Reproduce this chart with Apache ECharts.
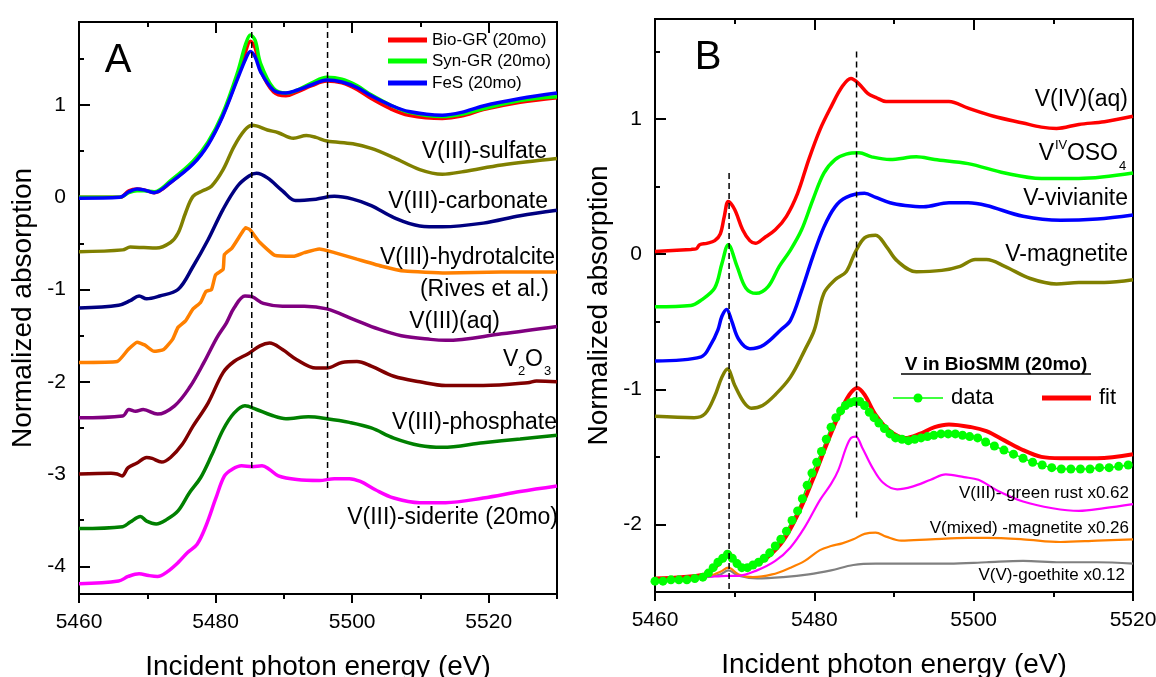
<!DOCTYPE html>
<html>
<head>
<meta charset="utf-8">
<script src="https://cdn.jsdelivr.net/npm/echarts@6/dist/echarts.min.js"></script>
<style>
  html, body { margin: 0; background: #fff; }
  #chart { width: 1156px; height: 677px; }
</style>
</head>
<body>
<div id="chart"></div>
<script>
const FONT = 'Liberation Sans, Arial, sans-serif';

// ---- panel A : reference spectra (eV, normalized absorption, stacked) ----
const bioGR = [[5460,0.0],[5466,0.0],[5467.3,0.07],[5468.5,0.09],[5469.5,0.08],[5471,0.05],[5473.4,0.16],[5476.7,0.37],[5478.9,0.58],[5481,0.88],[5483.2,1.30],[5484.4,1.58],[5485.1,1.69],[5485.8,1.62],[5486.6,1.38],[5488.5,1.14],[5490.3,1.10],[5491.9,1.14],[5494.1,1.21],[5496.3,1.26],[5498.5,1.24],[5500.7,1.17],[5502.8,1.07],[5505.6,0.96],[5508.3,0.89],[5513.2,0.855],[5516,0.88],[5519.2,0.95],[5524.6,1.03],[5530,1.08]];
const synGR = [[5460,0.0],[5466,0.0],[5467.3,0.05],[5468.5,0.07],[5469.5,0.07],[5471,0.06],[5473.4,0.18],[5476.7,0.39],[5478.9,0.60],[5481,0.90],[5483.2,1.35],[5484.4,1.66],[5485.1,1.76],[5485.8,1.70],[5486.6,1.45],[5488.5,1.18],[5490.3,1.13],[5491.9,1.16],[5494.1,1.24],[5496.3,1.30],[5498.5,1.28],[5500.7,1.21],[5502.8,1.11],[5505.6,1.0],[5508.3,0.92],[5513.2,0.875],[5516,0.90],[5519.2,0.96],[5524.6,1.05],[5530,1.09]];
const feS = [[5460,-0.01],[5466,0.0],[5467.3,0.06],[5468.5,0.09],[5469.5,0.08],[5471,0.05],[5473.4,0.16],[5476.7,0.36],[5478.9,0.57],[5481,0.87],[5483.2,1.28],[5484.4,1.50],[5485.1,1.58],[5485.8,1.52],[5486.6,1.36],[5488.5,1.16],[5490.3,1.13],[5491.9,1.16],[5494.1,1.22],[5496.3,1.27],[5498.5,1.25],[5500.7,1.19],[5502.8,1.10],[5505.6,1.00],[5508.3,0.93],[5513.2,0.89],[5516,0.92],[5519.2,0.99],[5524.6,1.07],[5530,1.13]];
const sulfate = [[5460,-0.59],[5466.4,-0.57],[5467.5,-0.54],[5469.5,-0.545],[5471.3,-0.55],[5473.4,-0.49],[5474.5,-0.39],[5475.6,-0.17],[5476.7,0.01],[5478.1,0.07],[5479.4,0.12],[5481.1,0.30],[5482.7,0.55],[5484.3,0.73],[5485.4,0.78],[5487.6,0.73],[5489.2,0.70],[5491.4,0.64],[5493.3,0.67],[5494.7,0.65],[5496.3,0.61],[5500.1,0.58],[5502.8,0.53],[5506.1,0.43],[5509.9,0.30],[5513.2,0.25],[5516.4,0.28],[5521.9,0.35],[5530,0.42]];
const carbonate = [[5460,-1.20],[5465.8,-1.17],[5467.5,-1.12],[5468.8,-1.07],[5469.9,-1.10],[5471.8,-1.07],[5474.5,-1.0],[5476.7,-0.75],[5478.9,-0.46],[5481.1,-0.13],[5483.2,0.12],[5484.9,0.23],[5486,0.26],[5487.6,0.21],[5489.8,0.07],[5491.7,-0.035],[5494.7,-0.02],[5497.4,0.01],[5500.1,-0.02],[5502.8,-0.09],[5506.1,-0.22],[5509.9,-0.31],[5513.2,-0.32],[5519.2,-0.28],[5524.6,-0.20],[5530,-0.14]];
const hydrotalcite = [[5460,-1.79],[5465.6,-1.78],[5467.2,-1.65],[5468.5,-1.57],[5469.6,-1.60],[5471,-1.67],[5472.4,-1.65],[5473.7,-1.54],[5474.5,-1.41],[5475.6,-1.34],[5476.7,-1.21],[5477.8,-1.14],[5478.6,-1.02],[5479.4,-1.0],[5480,-0.84],[5481.1,-0.78],[5481.3,-0.62],[5482.4,-0.55],[5483.8,-0.39],[5484.4,-0.33],[5485,-0.35],[5486.5,-0.49],[5488.7,-0.63],[5491.4,-0.64],[5493,-0.60],[5495.2,-0.56],[5497.4,-0.60],[5500.7,-0.67],[5504.5,-0.75],[5507.7,-0.80],[5513.7,-0.82],[5521.9,-0.81],[5530,-0.81]];
const aqueous = [[5460,-2.39],[5466.4,-2.37],[5467.3,-2.30],[5468.3,-2.32],[5469.4,-2.30],[5471.5,-2.35],[5474,-2.26],[5476.2,-2.06],[5478.3,-1.79],[5480.2,-1.52],[5481.6,-1.36],[5482.7,-1.20],[5484.3,-1.07],[5485.4,-1.08],[5487,-1.15],[5489.8,-1.18],[5493,-1.18],[5496.3,-1.21],[5500.1,-1.32],[5503.9,-1.43],[5507.2,-1.50],[5511.5,-1.54],[5513.7,-1.55],[5521.9,-1.48],[5530,-1.40]];
const v2o3 = [[5460,-3.0],[5464.7,-2.99],[5465.6,-3.0],[5466.3,-3.02],[5467.2,-2.93],[5468.5,-2.88],[5469.9,-2.82],[5470.7,-2.83],[5472.1,-2.87],[5473.4,-2.82],[5475.1,-2.68],[5476.7,-2.48],[5478.9,-2.23],[5481.1,-1.90],[5482.7,-1.78],[5484.9,-1.69],[5486.5,-1.61],[5487.9,-1.58],[5489.8,-1.65],[5491.9,-1.76],[5494.7,-1.85],[5496.3,-1.85],[5498.5,-1.79],[5500.7,-1.78],[5502.8,-1.83],[5506.1,-1.94],[5509.9,-2.00],[5513.7,-2.04],[5519.2,-2.04],[5525.7,-2.01],[5527,-1.99],[5530,-2.0]];
const phosphate = [[5460,-3.59],[5466.4,-3.57],[5467.5,-3.52],[5469,-3.46],[5469.9,-3.51],[5471.3,-3.54],[5472.9,-3.49],[5474.5,-3.40],[5476.2,-3.20],[5477.8,-3.04],[5479.4,-2.80],[5481.1,-2.52],[5482.7,-2.34],[5484.3,-2.26],[5486,-2.30],[5488.1,-2.36],[5490.3,-2.40],[5493.6,-2.38],[5496.3,-2.40],[5499.6,-2.44],[5502.8,-2.50],[5506.1,-2.61],[5509.9,-2.69],[5513.2,-2.71],[5519.2,-2.66],[5524.6,-2.62],[5530,-2.58]];
const siderite = [[5460,-4.19],[5465.8,-4.16],[5467.2,-4.11],[5468.8,-4.08],[5470.2,-4.10],[5471.5,-4.11],[5472.9,-4.06],[5474.5,-3.96],[5475.9,-3.85],[5477.3,-3.76],[5478.6,-3.56],[5480,-3.27],[5481.3,-3.02],[5482.4,-2.95],[5483.8,-2.91],[5485.4,-2.92],[5486.8,-2.91],[5487.9,-2.95],[5489.2,-3.02],[5491.9,-3.06],[5495.2,-3.07],[5497.4,-3.05],[5499.6,-3.05],[5501.2,-3.08],[5503.4,-3.17],[5506.1,-3.26],[5509.9,-3.31],[5513.7,-3.31],[5519.2,-3.26],[5524.6,-3.19],[5530,-3.13]];

// ---- panel B : standards and LCF of BioSMM ----
const v4aq = [[5460,0.02],[5464.5,0.035],[5465.2,0.04],[5465.6,0.07],[5466.5,0.08],[5467.5,0.10],[5468.2,0.15],[5468.7,0.28],[5469.2,0.39],[5470,0.33],[5471,0.18],[5471.9,0.10],[5472.6,0.08],[5473.7,0.12],[5475.1,0.18],[5476.5,0.28],[5477.9,0.45],[5479.3,0.70],[5480.7,0.92],[5482.1,1.09],[5483.5,1.24],[5484.6,1.30],[5485.6,1.26],[5486.7,1.19],[5487.7,1.16],[5489,1.13],[5491.4,1.13],[5494.6,1.13],[5496.9,1.13],[5499.3,1.08],[5502.5,1.02],[5506.2,0.97],[5508.5,0.94],[5510.4,0.93],[5513.2,0.96],[5516.4,0.98],[5520,1.02]];
const voso4 = [[5460,-0.39],[5464.5,-0.38],[5465.8,-0.34],[5467.5,-0.25],[5468.4,-0.07],[5469.2,0.07],[5470.3,-0.09],[5471.4,-0.25],[5472.7,-0.29],[5474.2,-0.24],[5475.6,-0.09],[5477,0.03],[5478.4,0.18],[5479.8,0.40],[5481.2,0.60],[5482.6,0.70],[5484,0.74],[5485.6,0.75],[5487.2,0.72],[5489.5,0.70],[5492.8,0.72],[5495.1,0.70],[5499.3,0.67],[5503.9,0.60],[5508.5,0.56],[5513.2,0.56],[5520,0.60]];
const vivianite = [[5460,-0.79],[5465.8,-0.76],[5467,-0.67],[5467.9,-0.56],[5468.4,-0.46],[5469,-0.41],[5469.6,-0.49],[5470.5,-0.63],[5471.9,-0.70],[5473.7,-0.67],[5475.8,-0.56],[5477,-0.49],[5478.4,-0.27],[5479.8,-0.02],[5481.2,0.20],[5482.6,0.35],[5484,0.42],[5486.3,0.45],[5487.7,0.42],[5489.5,0.38],[5491.4,0.36],[5493.7,0.35],[5496.9,0.38],[5499.3,0.38],[5501.6,0.36],[5506.2,0.28],[5510.9,0.25],[5515.5,0.26],[5520,0.29]];
const magnetite = [[5460,-1.20],[5464.9,-1.21],[5466.3,-1.18],[5467.5,-1.05],[5468.4,-0.91],[5469.1,-0.85],[5470,-0.97],[5471.2,-1.10],[5472.1,-1.14],[5473.5,-1.12],[5475.1,-1.04],[5477,-0.91],[5478.8,-0.71],[5480,-0.56],[5481.2,-0.29],[5482.6,-0.19],[5484,-0.13],[5485.1,0.01],[5486.3,0.12],[5487.7,0.14],[5489,0.06],[5490.4,-0.05],[5492.8,-0.13],[5496,-0.12],[5498.3,-0.09],[5500.2,-0.04],[5501.6,-0.04],[5503.9,-0.09],[5507.1,-0.18],[5510.4,-0.22],[5513.2,-0.21],[5516.4,-0.21],[5520,-0.19]];
const bioSMM = [[5460,-2.42],[5461,-2.42],[5462,-2.41],[5463,-2.41],[5464,-2.41],[5465,-2.40],[5466,-2.39],[5466.7,-2.36],[5467.3,-2.32],[5467.9,-2.28],[5468.5,-2.25],[5469.1,-2.22],[5469.7,-2.25],[5470.3,-2.29],[5470.9,-2.32],[5471.6,-2.32],[5472.3,-2.30],[5473,-2.28],[5473.7,-2.25],[5474.4,-2.21],[5475.1,-2.16],[5475.8,-2.11],[5476.5,-2.05],[5477.2,-1.97],[5477.9,-1.90],[5478.5,-1.81],[5479.1,-1.71],[5479.7,-1.62],[5480.3,-1.54],[5480.9,-1.46],[5481.5,-1.37],[5482.1,-1.28],[5482.7,-1.21],[5483.3,-1.16],[5483.9,-1.12],[5484.5,-1.10],[5485.1,-1.09],[5485.7,-1.09],[5486.3,-1.12],[5486.9,-1.17],[5487.5,-1.21],[5488.1,-1.25],[5488.8,-1.29],[5489.5,-1.33],[5490.2,-1.36],[5491,-1.37],[5491.8,-1.38],[5492.6,-1.37],[5493.4,-1.36],[5494.2,-1.35],[5495,-1.34],[5495.9,-1.33],[5496.8,-1.33],[5497.7,-1.33],[5498.6,-1.34],[5499.5,-1.35],[5500.5,-1.36],[5501.5,-1.39],[5502.6,-1.42],[5503.8,-1.45],[5505,-1.48],[5506.2,-1.51],[5507.4,-1.54],[5508.6,-1.56],[5509.8,-1.58],[5511,-1.59],[5512.2,-1.59],[5513.4,-1.59],[5514.6,-1.59],[5515.8,-1.58],[5517,-1.58],[5518.2,-1.57],[5519.4,-1.56]];
const fit = [[5460,-2.40],[5466.3,-2.37],[5467.5,-2.32],[5468.2,-2.28],[5469.2,-2.21],[5470,-2.27],[5471.2,-2.32],[5472.6,-2.30],[5474.2,-2.24],[5476.1,-2.12],[5477.9,-1.93],[5479.8,-1.67],[5481.6,-1.40],[5483,-1.20],[5484.4,-1.04],[5485.4,-0.99],[5486.3,-1.04],[5487.7,-1.19],[5489.5,-1.31],[5491.4,-1.36],[5493.2,-1.33],[5495.1,-1.28],[5496.9,-1.26],[5499.7,-1.28],[5501.6,-1.31],[5503.9,-1.38],[5506.2,-1.45],[5508.5,-1.50],[5510.9,-1.51],[5515.5,-1.51],[5520,-1.48]];
const greenRust = [[5460,-2.40],[5466.3,-2.39],[5469,-2.38],[5470.5,-2.38],[5472.8,-2.34],[5475.1,-2.27],[5477,-2.17],[5478.8,-2.02],[5480.7,-1.82],[5482.1,-1.70],[5483,-1.60],[5484,-1.43],[5484.6,-1.36],[5485.2,-1.35],[5486,-1.43],[5487.2,-1.57],[5488.6,-1.69],[5490.4,-1.74],[5492.3,-1.72],[5494.6,-1.67],[5496.5,-1.63],[5498.8,-1.65],[5500.6,-1.67],[5503,-1.75],[5506.2,-1.83],[5509.9,-1.88],[5513.2,-1.90],[5516.4,-1.88],[5520,-1.85]];
const mixedMag = [[5460,-2.40],[5466.3,-2.39],[5468.2,-2.35],[5469.2,-2.32],[5470.5,-2.37],[5472.3,-2.39],[5474.7,-2.37],[5477,-2.32],[5478.8,-2.27],[5480.7,-2.19],[5482.1,-2.16],[5483.5,-2.14],[5484.9,-2.11],[5486.3,-2.07],[5487.7,-2.06],[5489,-2.09],[5490.9,-2.12],[5494.6,-2.11],[5499.3,-2.10],[5501.6,-2.10],[5506.2,-2.11],[5510.9,-2.13],[5515.5,-2.12],[5520,-2.11]];
const goethite = [[5460,-2.40],[5466.3,-2.39],[5468.2,-2.37],[5469.2,-2.34],[5470.5,-2.38],[5472.8,-2.40],[5476.1,-2.39],[5479.3,-2.37],[5482.1,-2.34],[5484.9,-2.30],[5487.7,-2.29],[5492.3,-2.29],[5496.9,-2.29],[5501.6,-2.28],[5506.2,-2.27],[5510.9,-2.28],[5515.5,-2.28],[5520,-2.29]];

// ---- axes ----
const xRangeA = [5460, 5530];
const xRangeB = [5460, 5520];
const yRangeA = [-4.3, 1.9];
const yRangeB = [-2.5, 1.74];
const xMajor = [5460, 5480, 5500, 5520];
const xMinorA = [5470, 5490, 5510, 5530];
const xMinorB = [5470, 5490, 5510];
const yMajorA = [-4, -3, -2, -1, 0, 1];
const yMinorA = [-3.5, -2.5, -1.5, -0.5, 0.5, 1.5];
const yMajorB = [-2, -1, 0, 1];
const yMinorB = [-1.5, -0.5, 0.5, 1.5];
// dashed guides: [energy, top, bottom]
const dashA = [[5485.3, 1.9, -2.97], [5496.4, 1.9, -3.17]];
const dashB = [[5469.3, 0.6, -2.5], [5485.3, 1.5, -1.96]];

const chart = echarts.init(document.getElementById('chart'), null, { renderer: 'canvas' });

const black = { color: '#000', width: 2 };
const plain = v => String(v);

function xAxesFor(grid, range, minor) {
  const base = { type: 'value', gridIndex: grid, min: range[0], max: range[1], splitLine: { show: false } };
  return [
    Object.assign({}, base, {
      position: 'bottom',
      axisLine: { onZero: false, lineStyle: black },
      axisTick: { customValues: xMajor, inside: false, length: 9, lineStyle: black },
      axisLabel: { customValues: xMajor, formatter: plain, margin: 18, fontSize: 21, color: '#000', fontFamily: FONT },
      name: 'Incident photon energy (eV)', nameLocation: 'middle', nameGap: 59,
      nameTextStyle: { fontSize: 28, color: '#000', fontFamily: FONT }
    }),
    Object.assign({}, base, {
      position: 'bottom', axisLine: { show: false, onZero: false }, axisLabel: { show: false },
      axisTick: { customValues: minor, inside: false, length: 5, lineStyle: black }
    }),
    Object.assign({}, base, {
      position: 'top', axisLine: { onZero: false, lineStyle: black }, axisLabel: { show: false },
      axisTick: { customValues: xMajor, inside: true, length: 11, lineStyle: black }
    }),
    Object.assign({}, base, {
      position: 'top', axisLine: { show: false, onZero: false }, axisLabel: { show: false },
      axisTick: { customValues: minor, inside: true, length: 5, lineStyle: black }
    })
  ];
}

function yAxesFor(grid, range, major, minor) {
  const base = { type: 'value', gridIndex: grid, min: range[0], max: range[1], position: 'left', splitLine: { show: false } };
  return [
    Object.assign({}, base, {
      axisLine: { onZero: false, lineStyle: black },
      axisTick: { customValues: major, inside: true, length: 11, lineStyle: black },
      axisLabel: { customValues: major, formatter: plain, margin: 13, fontSize: 21, color: '#000', fontFamily: FONT },
      name: 'Normalized absorption', nameLocation: 'middle', nameGap: 42,
      nameTextStyle: { fontSize: 28, color: '#000', fontFamily: FONT }
    }),
    Object.assign({}, base, {
      axisLine: { show: false, onZero: false }, axisLabel: { show: false },
      axisTick: { customValues: minor, inside: true, length: 5, lineStyle: black }
    })
  ];
}

function curve(data, color, width, xi, yi, smooth) {
  return {
    type: 'line', data: data, xAxisIndex: xi, yAxisIndex: yi,
    symbol: 'none', smooth: smooth === undefined ? 0.35 : smooth,
    lineStyle: { color: color, width: width }, silent: true
  };
}

function dashes(list, xi, yi) {
  return list.map(d => ({
    type: 'line', xAxisIndex: xi, yAxisIndex: yi, symbol: 'none', z: 5, silent: true,
    data: [[d[0], d[1]], [d[0], d[2]]],
    lineStyle: { color: '#000', width: 1.5, type: [6, 4] }
  }));
}

const seriesA = [
  curve(siderite, '#FF00FF', 3.5, 0, 0),
  curve(phosphate, '#008000', 3.5, 0, 0),
  curve(v2o3, '#800000', 3.5, 0, 0),
  curve(aqueous, '#800080', 3.5, 0, 0),
  curve(hydrotalcite, '#FF8000', 3.5, 0, 0, 0.15),
  curve(carbonate, '#000080', 3.5, 0, 0),
  curve(sulfate, '#808000', 3.5, 0, 0),
  curve(bioGR, '#FF0000', 3.5, 0, 0),
  curve(synGR, '#00FF00', 3.5, 0, 0),
  curve(feS, '#0000FF', 3.5, 0, 0)
].concat(dashes(dashA, 0, 0));

const seriesB = [
  curve(v4aq, '#FF0000', 3.5, 4, 2),
  curve(voso4, '#00FF00', 3.5, 4, 2),
  curve(vivianite, '#0000FF', 3.5, 4, 2),
  curve(magnetite, '#808000', 3.5, 4, 2),
  {
    type: 'line', data: bioSMM, xAxisIndex: 4, yAxisIndex: 2, smooth: 0.3, silent: true,
    symbol: 'circle', symbolSize: 9, showAllSymbol: true,
    itemStyle: { color: '#00FF00' }, lineStyle: { color: '#00FF00', width: 1.5 }
  },
  curve(goethite, '#808080', 2.2, 4, 2),
  curve(mixedMag, '#FF8000', 2.2, 4, 2),
  curve(greenRust, '#FF00FF', 2.2, 4, 2),
  curve(fit, '#FF0000', 4, 4, 2)
].concat(dashes(dashB, 4, 2));

function txt(x, y, text, size, align, extra) {
  return {
    type: 'text', x: x, y: y, z: 100,
    style: Object.assign({ text: text, fontSize: size, fontFamily: FONT, fill: '#000', align: align || 'right', verticalAlign: 'middle' }, extra || {})
  };
}
function seg(x1, y1, x2, y2, color, w) {
  return { type: 'line', z: 100, shape: { x1: x1, y1: y1, x2: x2, y2: y2 }, style: { stroke: color, lineWidth: w } };
}

const graphics = [
  txt(118, 61, 'A', 40, 'center'),
  txt(708, 58, 'B', 40, 'center'),
  // legend A
  seg(388, 40, 427, 40, '#FF0000', 5), txt(432, 40, 'Bio-GR (20mo)', 17, 'left'),
  seg(388, 61, 427, 61, '#00FF00', 5), txt(432, 61, 'Syn-GR (20mo)', 17, 'left'),
  seg(388, 83, 427, 83, '#0000FF', 5), txt(432, 83, 'FeS (20mo)', 17, 'left'),
  // panel A labels
  txt(547, 152, 'V(III)-sulfate', 23),
  txt(548, 202, 'V(III)-carbonate', 23),
  txt(555, 258, 'V(III)-hydrotalcite', 23),
  txt(549, 290, '(Rives et al.)', 23),
  txt(500, 322, 'V(III)(aq)', 23),
  txt(503, 360, 'V', 23, 'left'), txt(518, 371, '2', 13, 'left'),
  txt(525, 360, 'O', 23, 'left'), txt(544, 371, '3', 13, 'left'),
  txt(557, 423, 'V(III)-phosphate', 23),
  txt(558, 518, 'V(III)-siderite (20mo)', 23),
  // panel B labels
  txt(1128, 100, 'V(IV)(aq)', 23),
  txt(1054, 154, 'V', 23), txt(1055, 145, 'IV', 13, 'left'),
  txt(1118, 154, 'OSO', 23), txt(1119, 166, '4', 13, 'left'),
  txt(1128, 199, 'V-vivianite', 23),
  txt(1128, 255, 'V-magnetite', 23),
  // LCF legend
  txt(996, 365, 'V in BioSMM (20mo)', 19, 'center', { fontWeight: 'bold' }),
  seg(901, 374, 1091, 374, '#000', 1.5),
  seg(893, 398, 943, 398, '#00FF00', 1.5),
  { type: 'circle', z: 100, shape: { cx: 918, cy: 398, r: 4.5 }, style: { fill: '#00FF00' } },
  txt(951, 398, 'data', 22, 'left'),
  seg(1042, 398, 1091, 398, '#FF0000', 5),
  txt(1099, 398, 'fit', 22, 'left'),
  txt(1129, 493, 'V(III)- green rust x0.62', 17),
  txt(1129, 528, 'V(mixed) -magnetite x0.26', 17),
  txt(1125, 575, 'V(V)-goethite x0.12', 17)
];

chart.setOption({
  animation: false,
  backgroundColor: '#fff',
  textStyle: { fontFamily: FONT },
  grid: [
    { left: 79, top: 22, width: 478, height: 572, outerBoundsMode: 'none', containLabel: false,
      show: true, borderColor: '#000', borderWidth: 2 },
    { left: 655, top: 19, width: 478, height: 573, outerBoundsMode: 'none', containLabel: false,
      show: true, borderColor: '#000', borderWidth: 2 }
  ],
  xAxis: xAxesFor(0, xRangeA, xMinorA).concat(xAxesFor(1, xRangeB, xMinorB)),
  yAxis: yAxesFor(0, yRangeA, yMajorA, yMinorA).concat(yAxesFor(1, yRangeB, yMajorB, yMinorB)),
  series: seriesA.concat(seriesB),
  graphic: graphics
});
</script>
</body>
</html>
